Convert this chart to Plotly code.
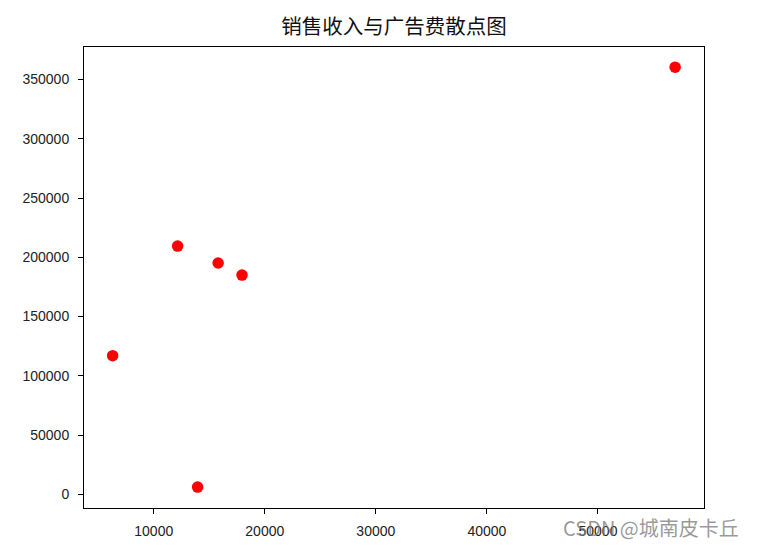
import plotly.graph_objects as go

# -----------------------------
# Data
# -----------------------------

ad_cost = [6300, 12150, 15800, 17950, 13950, 56950]
sales_income = [117000, 209500, 195200, 185000, 6100, 360500]

x_ticks = [10000, 20000, 30000, 40000, 50000]
y_ticks = [0, 50000, 100000, 150000, 200000, 250000, 300000, 350000]

CJK_FONT = "Noto Sans CJK SC, Arial"
TICK_FONT = "Liberation Sans, Arial"

# page body adds ~8px offset, margins compensate for it
M_L, M_R, M_T, M_B = 76, 61, 39, 47
PLOT_W = 757 - M_L - M_R
PLOT_H = 547 - M_T - M_B

fig = go.Figure()

fig.add_trace(
    go.Scatter(
        x=ad_cost,
        y=sales_income,
        mode="markers",
        marker=dict(color="#FF0000", size=11.5, line=dict(width=0)),
        showlegend=False,
    )
)

axis_style = dict(
    showgrid=False,
    zeroline=False,
    showline=True,
    linecolor="black",
    linewidth=1,
    mirror=True,
    ticks="outside",
    ticklen=5,
    tickcolor="black",
    tickfont=dict(family=TICK_FONT, size=14, color="#222222"),
)

fig.update_xaxes(
    range=[3720, 59550],
    tickvals=x_ticks,
    ticktext=[str(v) for v in x_ticks],
    ticklabelstandoff=5,
    **axis_style,
)
fig.update_yaxes(
    range=[-11550, 377500],
    tickvals=y_ticks,
    ticktext=[str(v) for v in y_ticks],
    ticklabelstandoff=6,
    **axis_style,
)

fig.update_layout(
    width=757,
    height=547,
    paper_bgcolor="white",
    plot_bgcolor="white",
    margin=dict(l=M_L, r=M_R, t=M_T, b=M_B),
    title=dict(
        text="销售收入与广告费散点图",
        xref="paper",
        x=0.5,
        xanchor="center",
        y=1 - 19 / 547,
        yanchor="middle",
        font=dict(family=CJK_FONT, size=20.5, color="#111111"),
    ),
    font=dict(family=CJK_FONT),
)

# watermark
fig.add_annotation(
    text="CSDN @城南皮卡丘",
    xref="paper",
    yref="paper",
    x=(733 - M_L) / PLOT_W,
    y=-(519 - (M_T + PLOT_H)) / PLOT_H,
    xanchor="right",
    yanchor="middle",
    showarrow=False,
    font=dict(family=CJK_FONT, size=20, color="rgba(120,120,120,0.75)"),
)

fig.write_html("out.html")
